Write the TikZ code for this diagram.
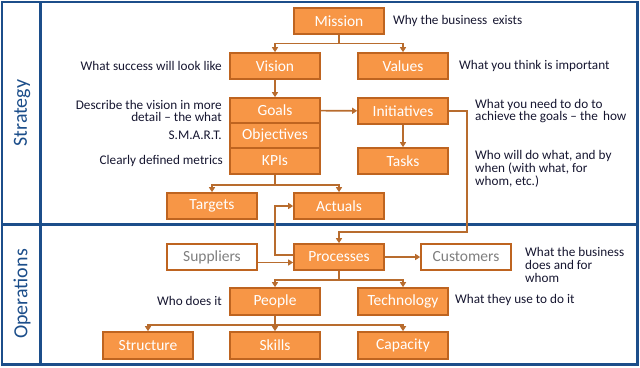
\documentclass[tikz,border=0pt]{standalone}
\usepackage{fontspec}
\setmainfont{Carlito}
\usetikzlibrary{arrows.meta,calc}
\definecolor{navy}{RGB}{28,78,138}
\definecolor{ofill}{RGB}{247,150,70}
\definecolor{oborder}{RGB}{190,100,32}
\definecolor{oline}{RGB}{184,108,46}
\definecolor{notec}{RGB}{22,22,48}
\definecolor{greytext}{RGB}{127,127,127}
\tikzset{
  box/.style={draw=oborder, fill=ofill, line width=1.6pt, minimum width=90pt, minimum height=26pt,
    inner sep=0pt, text=white, font=\fontsize{15.5}{15.5}\selectfont},
  wbox/.style={box, fill=white, text=greytext},
  conn/.style={draw=oline, line width=1.6pt},
  arr/.style={conn, -{Triangle[length=5pt,width=6pt]}},
  note/.style={inner sep=0pt, text=notec, font=\fontsize{13.2}{12.8}\selectfont},
  lane/.style={text=navy, rotate=90, font=\fontsize{20}{20}\selectfont, inner sep=0pt}
}
\begin{document}
\begin{tikzpicture}[x=1pt,y=-1pt]
\useasboundingbox (0,0) rectangle (640,367);
% frame
\draw[navy, line width=2.5pt] (2,2) rectangle (637.5,364.5);
\draw[navy, line width=2.5pt] (40.5,2) -- (40.5,364.5);
\draw[navy, line width=2.5pt] (2,224.5) -- (637.5,224.5);
\node[lane] (strat) at (22,113) {Strategy};
\node[lane] (oper) at (22,294) {Operations};
% boxes
\node[box] (mission) at (339,21) {Mission};
\node[box] (vision) at (275,66) {Vision};
\node[box] (values) at (403,66) {Values};
\node[box, minimum height=25pt] (goals) at (275,110.5) {Goals};
\node[box, minimum height=25pt] (objectives) at (275,135.5) {Objectives};
\node[box] (kpis) at (275,161) {KPIs};
\node[box] (initiatives) at (403,111) {Initiatives};
\node[box] (tasks) at (403,161) {Tasks};
\node[box] (targets) at (212,206) {Targets};
\node[box] (actuals) at (339,206) {Actuals};
\node[wbox] (suppliers) at (212,257) {Suppliers};
\node[box] (processes) at (339,257) {Processes};
\node[wbox] (customers) at (466,257) {Customers};
\node[box, minimum height=27pt] (people) at (275,301.5) {People};
\node[box, minimum height=27pt] (technology) at (403,301.5) {Technology};
\node[box, minimum height=27pt] (structure) at (148,345.5) {Structure};
\node[box, minimum height=27pt] (skills) at (275,345.5) {Skills};
\node[box, minimum height=27pt] (capacity) at (403,345.5) {Capacity};
% connectors
\coordinate (mj) at ($(mission.south)+(0,8.5)$);
\draw[conn] (mission.south) -- (mj);
\draw[arr] (mj) -| (vision.north);
\draw[arr] (mj) -| (values.north);
\draw[arr] (vision) -- (goals);
\draw[arr] (goals) -- (initiatives);
\draw[arr] (initiatives) -- (tasks);
\coordinate (ip) at (467,232);
\draw[arr] (initiatives.east) -| (ip) -| (processes.north);
\coordinate (kj) at ($(kpis.south)+(0,10)$);
\draw[conn] (kpis.south) -- (kj);
\draw[arr] (kj) -| (targets.north);
\draw[arr] (kj) -| (actuals.north);
\coordinate (pa) at (275,255);
\draw[arr] ([yshift=2pt]processes.west) -- (pa) |- (actuals.west);
\draw[arr] ([yshift=-5.5pt]suppliers.east) -- ([yshift=-5.5pt]processes.west);
\draw[arr] (processes) -- (customers);
\coordinate (pj) at ($(processes.south)+(0,9)$);
\draw[conn] (processes.south) -- (pj);
\draw[arr] (pj) -| (people.north);
\draw[arr] (pj) -| (technology.north);
\coordinate (pe) at ($(people.south)+(0,9)$);
\draw[conn] (people.south) -- (pe);
\draw[arr] (pe) -| (structure.north);
\draw[arr] (pe) -- (skills.north);
\draw[arr] (pe) -| (capacity.north);
% notes
\node[note, anchor=west] (n1) at (393,21) {Why the business\ \,exists};
\node[note, anchor=east] (n2) at (222,66) {What success will look like};
\node[note, anchor=west] (n3) at (459,66) {What you think is important};
\node[note, anchor=east, align=right] (n4) at (222,111) {Describe the vision in more\\detail – the what};
\node[note, anchor=east] (n5) at (222,135.5) {S.M.A.R.T.};
\node[note, anchor=east] (n6) at (223,161) {Clearly defined metrics};
\node[note, anchor=west, align=left] (n7) at (475,111) {What you need to do to\\achieve the goals – the\ \,how};
\node[note, anchor=west, align=left] (n8) at (475,169) {Who will do what, and by\\when (with what, for\\whom, etc.)};
\node[note, anchor=west, align=left] (n9) at (525,265) {What the business\\does and for\\whom};
\node[note, anchor=east] (n10) at (222,300.5) {Who does it};
\node[note, anchor=west] (n11) at (455,299.5) {What they use to do it};
\end{tikzpicture}
\end{document}
